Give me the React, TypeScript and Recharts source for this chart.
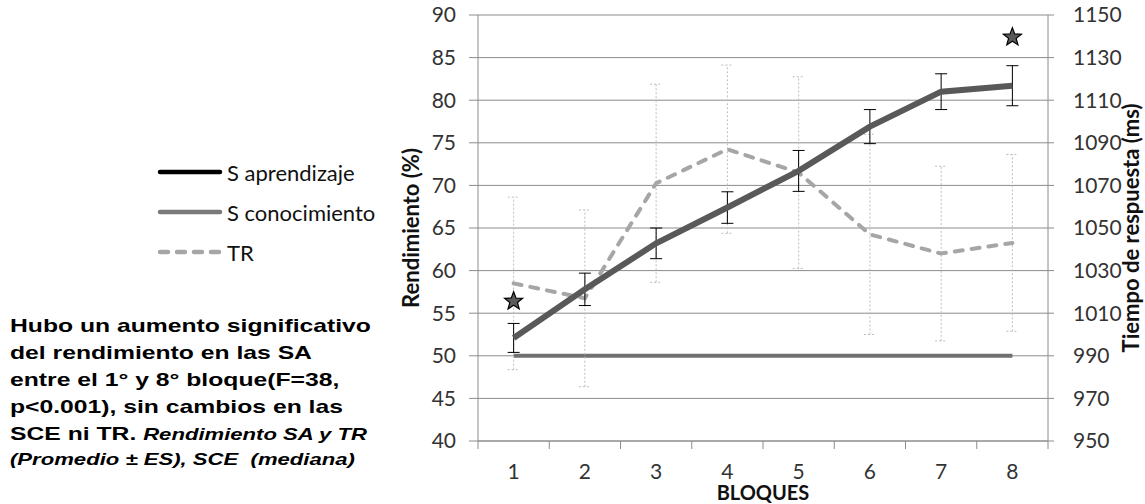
import { ComposedChart, Line, XAxis, YAxis, CartesianGrid, ErrorBar } from "recharts";

// bloques 1..8
const bloques = ["1", "2", "3", "4", "5", "6", "7", "8"];
// rendimiento (%) sesiones de aprendizaje, promedio ± ES
const sAprendizaje = [52.1, 57.8, 63.2, 67.4, 71.7, 76.9, 81.0, 81.7];
const sAprendizajeErr = [1.7, 1.9, 1.8, 1.85, 2.4, 2.0, 2.1, 2.35];
// sesiones de conocimiento (mediana)
const sConocimiento = [50, 50, 50, 50, 50, 50, 50, 50];
// tiempo de respuesta (ms), promedio ± ES
const tiempoRespuesta = [1024, 1017, 1071, 1087, 1076, 1047, 1038, 1043];
const tiempoRespuestaErr = [40.5, 41.5, 46.5, 39.5, 45, 47, 41, 41.5];
// marcas de significancia (eje izquierdo)
const estrellas: (number | null)[] = [56.4, null, null, null, null, null, null, 87.4];

const ticksRend = [40, 45, 50, 55, 60, 65, 70, 75, 80, 85, 90];
const ticksTR = [950, 970, 990, 1010, 1030, 1050, 1070, 1090, 1110, 1130, 1150];

const data = bloques.map((b, i) => ({
  bloque: b,
  sa: sAprendizaje[i],
  saErr: sAprendizajeErr[i],
  sce: sConocimiento[i],
  tr: tiempoRespuesta[i],
  trErr: tiempoRespuestaErr[i],
  estrella: estrellas[i],
}));

const AXIS = "#8c8c8c";
const FONT = "Lato, 'Open Sans', sans-serif";

function BloqueTick(props: any) {
  const { x, y, payload, index } = props;
  const half = payload?.offset || 35.6;
  const last = index === bloques.length - 1;
  return (
    <g>
      <line x1={x - half} y1={y} x2={x - half} y2={y + 8} stroke={AXIS} />
      {last && <line x1={x + half} y1={y} x2={x + half} y2={y + 8} stroke={AXIS} />}
      <text x={x} y={y + 38} textAnchor="middle" fontFamily={FONT} fontSize={21} fill="#333">
        {payload.value}
      </text>
    </g>
  );
}

function Estrella(props: any) {
  const { cx, cy, payload } = props;
  if (payload?.estrella == null || cx == null || cy == null || isNaN(cy)) return null;
  const R = 9.5;
  const r = 4;
  const pts: string[] = [];
  for (let k = 0; k < 10; k++) {
    const rad = k % 2 === 0 ? R : r;
    const a = -Math.PI / 2 + (k * Math.PI) / 5;
    pts.push(`${cx + rad * Math.cos(a)},${cy + rad * Math.sin(a)}`);
  }
  return <polygon points={pts.join(" ")} fill="#5a5a5a" stroke="#000" strokeWidth={1.2} />;
}

function EjeTitulo({ cx, cy, children }: { cx: number; cy: number; children: string }) {
  return (
    <text
      transform={`translate(${cx},${cy}) rotate(-90)`}
      textAnchor="middle"
      dominantBaseline="central"
      fontFamily={FONT}
      fontWeight={700}
      fontSize={22}
      fill="#111"
    >
      {children}
    </text>
  );
}

const legendItems = [
  { name: "S aprendizaje", color: "#000", dash: undefined },
  { name: "S conocimiento", color: "#7a7a7a", dash: undefined },
  { name: "TR", color: "#a6a6a6", dash: "8 9" },
];

const notaLineas = [
  "Hubo un aumento significativo",
  "del rendimiento en las SA",
  "entre el 1° y 8° bloque(F=38,",
  "p<0.001), sin cambios en las",
];

export default function App() {
  return (
    <div style={{ position: "absolute", left: 0, top: 0, width: 1145, height: 504, background: "#fff" }}>
      <ComposedChart width={1145} height={504} data={data} margin={{ top: 15, right: 0, bottom: 0, left: 0 }}>
        <CartesianGrid yAxisId="left" vertical={false} stroke={AXIS} />
        <XAxis
          dataKey="bloque"
          scale="band"
          height={63}
          stroke={AXIS}
          tickLine={false}
          tickSize={0}
          tickMargin={0}
          tick={<BloqueTick />}
          interval={0}
          label={{
            content: (p: any) => (
              <text
                x={p.viewBox.x + p.viewBox.width / 2}
                y={504 - 4}
                textAnchor="middle"
                fontFamily={FONT}
                fontWeight={700}
                fontSize={20}
                fill="#111"
              >
                BLOQUES
              </text>
            ),
          }}
        />
        <YAxis
          yAxisId="left"
          width={478}
          domain={[40, 90]}
          ticks={ticksRend}
          interval={0}
          stroke={AXIS}
          tickSize={9}
          tickMargin={13}
          tick={{ fontFamily: FONT, fontSize: 21, fill: "#333" }}
          label={{
            content: (p: any) => (
              <EjeTitulo cx={p.viewBox.x + p.viewBox.width - 68} cy={p.viewBox.y + p.viewBox.height / 2}>
                Rendimiento (%)
              </EjeTitulo>
            ),
          }}
        />
        <YAxis
          yAxisId="right"
          orientation="right"
          width={97}
          domain={[950, 1150]}
          ticks={ticksTR}
          interval={0}
          stroke={AXIS}
          tickSize={6}
          tickMargin={19}
          tick={{ fontFamily: FONT, fontSize: 21, fill: "#333", textAnchor: "start" }}
          label={{
            content: (p: any) => (
              <EjeTitulo cx={p.viewBox.x + 82} cy={p.viewBox.y + p.viewBox.height / 2}>
                Tiempo de respuesta (ms)
              </EjeTitulo>
            ),
          }}
        />
        <Line
          yAxisId="left"
          dataKey="sce"
          stroke="#707070"
          strokeWidth={4}
          dot={false}
          activeDot={false}
          isAnimationActive={false}
        />
        <Line
          yAxisId="right"
          dataKey="tr"
          stroke="#a6a6a6"
          strokeWidth={4}
          strokeDasharray="8 9"
          strokeLinecap="round"
          dot={false}
          activeDot={false}
          isAnimationActive={false}
        >
          <ErrorBar dataKey="trErr" direction="y" width={6} stroke="#bdbdbd" strokeWidth={1} strokeDasharray="2 2" />
        </Line>
        <Line
          yAxisId="left"
          dataKey="sa"
          stroke="#595959"
          strokeWidth={6}
          dot={false}
          activeDot={false}
          isAnimationActive={false}
        >
          <ErrorBar dataKey="saErr" direction="y" width={6} stroke="#000" strokeWidth={1} />
        </Line>
        <Line
          yAxisId="left"
          dataKey="estrella"
          stroke="none"
          dot={<Estrella />}
          activeDot={false}
          legendType="none"
          isAnimationActive={false}
        />
      </ComposedChart>

      <svg style={{ position: "absolute", left: 150, top: 155 }} width={245} height={115}>
        {legendItems.map((it, i) => (
          <g key={it.name}>
            <line
              x1={10}
              x2={70}
              y1={17 + i * 40}
              y2={17 + i * 40}
              stroke={it.color}
              strokeWidth={4.5}
              strokeDasharray={it.dash}
              strokeLinecap="round"
            />
            <text x={77} y={17 + i * 40} dominantBaseline="central" fontFamily={FONT} fontSize={22} fill="#111">
              {it.name}
            </text>
          </g>
        ))}
      </svg>

      <div
        style={{
          position: "absolute",
          left: 10,
          top: 312,
          fontFamily: "'Liberation Sans', Arial, sans-serif",
          fontWeight: 700,
          fontSize: 19,
          lineHeight: "27px",
          color: "#000",
          whiteSpace: "nowrap",
          transform: "scaleX(1.3)",
          transformOrigin: "0 0",
        }}
      >
        {notaLineas.map((l) => (
          <div key={l}>{l}</div>
        ))}
        <div>
          SCE ni TR. <i style={{ fontSize: 17 }}>Rendimiento SA y TR</i>
        </div>
        <div style={{ fontStyle: "italic", fontSize: 17, lineHeight: "24px" }}>(Promedio ± ES), SCE&nbsp; (mediana)</div>
      </div>
    </div>
  );
}
